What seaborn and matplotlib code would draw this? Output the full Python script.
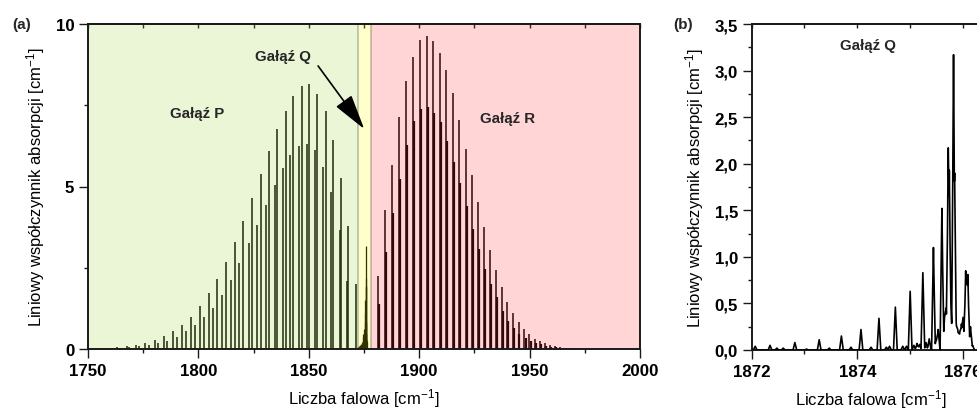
import numpy as np
import matplotlib
matplotlib.use("Agg")
import matplotlib.pyplot as plt
from matplotlib.ticker import FixedLocator, FixedFormatter
import seaborn as sns

# ---- line list of the fundamental band: P branch (two components) ----
p_main_pos = [1754.4, 1758.9, 1763.2, 1767.5, 1771.9, 1776.0, 1780.3, 1784.4, 1788.6,
              1792.6, 1796.6, 1800.7, 1804.8, 1808.6, 1812.5, 1816.6, 1820.3, 1824.4,
              1828.4, 1832.1, 1835.7, 1839.5, 1843.0, 1846.9, 1850.2, 1853.9, 1857.6,
              1860.8, 1864.4, 1867.9, 1871.3]
p_main_int = [0.02, 0.03, 0.05, 0.08, 0.13, 0.19, 0.29, 0.41, 0.56,
              0.75, 0.99, 1.31, 1.71, 2.15, 2.69, 3.30, 3.95, 4.64,
              5.37, 6.09, 6.77, 7.32, 7.80, 8.08, 8.16, 7.85, 7.32,
              6.44, 5.26, 3.79, 2.00]
p_weak_pos = [1756.0, 1760.0, 1764.2, 1768.7, 1773.2, 1777.5, 1781.7, 1785.9, 1790.2,
              1794.2, 1798.3, 1802.5, 1806.8, 1810.7, 1814.6, 1818.5, 1822.8, 1826.7,
              1830.6, 1834.5, 1838.2, 1841.6, 1845.6, 1849.2, 1852.8, 1856.6, 1860.2,
              1864.0, 1867.3]
p_weak_int = [0.01, 0.02, 0.03, 0.05, 0.08, 0.13, 0.19, 0.26, 0.38,
              0.54, 0.73, 0.97, 1.27, 1.66, 2.13, 2.64, 3.25, 3.83,
              4.43, 5.05, 5.57, 5.98, 6.24, 6.31, 6.12, 5.59, 4.82,
              3.67, 2.10]

# ---- R branch (two components) ----
r_main_pos = [1881.2, 1884.5, 1887.8, 1891.0, 1894.1, 1897.1, 1900.4, 1903.4, 1906.4,
              1909.4, 1912.3, 1915.2, 1918.2, 1921.1, 1923.8, 1926.6, 1929.3, 1932.1,
              1934.8, 1937.4, 1939.9, 1942.5, 1945.0, 1947.6, 1949.9, 1952.4, 1954.7,
              1957.0, 1959.2, 1961.5, 1963.8, 1966.0, 1968.2, 1970.4, 1972.6]
r_main_int = [2.24, 4.28, 5.67, 7.13, 8.25, 8.98, 9.50, 9.64, 9.49,
              9.12, 8.59, 7.88, 7.05, 6.15, 5.35, 4.53, 3.74, 3.06,
              2.43, 1.90, 1.46, 1.11, 0.82, 0.62, 0.46, 0.32, 0.25,
              0.19, 0.12, 0.08, 0.05, 0.03, 0.02, 0.01, 0.01]
r_weak_pos = [1881.6, 1884.9, 1888.2, 1891.4, 1894.5, 1897.5, 1900.8, 1903.8, 1906.8,
              1909.8, 1912.7, 1915.6, 1918.6, 1921.5, 1924.2, 1927.0, 1929.7, 1932.5,
              1935.2, 1937.8, 1940.3, 1942.9, 1945.4, 1948.2, 1950.6, 1953.0, 1955.3,
              1957.6, 1959.8, 1962.1, 1964.4, 1966.6]
r_weak_int = [1.40, 3.00, 4.20, 5.23, 6.29, 7.03, 7.38, 7.44, 7.26,
              6.97, 6.41, 5.74, 5.10, 4.41, 3.69, 3.08, 2.46, 2.00,
              1.59, 1.18, 0.87, 0.64, 0.46, 0.34, 0.25, 0.19, 0.15,
              0.10, 0.07, 0.05, 0.03, 0.02]

# ---- Q branch ----
q_pos = [1872.07, 1872.35, 1872.48, 1872.60, 1872.82, 1873.04, 1873.28, 1873.47,
         1873.70, 1873.88, 1874.07, 1874.26, 1874.41, 1874.55, 1874.61, 1874.72,
         1874.86, 1874.93, 1875.00, 1875.07, 1875.13, 1875.18, 1875.24, 1875.30,
         1875.36, 1875.44, 1875.49, 1875.53, 1875.60, 1875.65, 1875.68, 1875.72,
         1875.74, 1875.77, 1875.82, 1875.84, 1875.87, 1875.90, 1875.94, 1875.97,
         1876.00, 1876.05, 1876.09, 1876.14, 1876.18]
q_int = [0.04, 0.05, 0.02, 0.02, 0.08, 0.01, 0.11, 0.02,
         0.15, 0.03, 0.22, 0.03, 0.34, 0.03, 0.04, 0.46,
         0.04, 0.04, 0.63, 0.05, 0.07, 0.06, 0.83, 0.08,
         0.12, 1.10, 0.12, 0.22, 1.52, 0.35, 0.45, 2.17,
         1.93, 0.50, 3.17, 1.90, 0.30, 0.22, 0.20, 0.28,
         0.35, 0.85, 0.81, 0.25, 0.05]

# ---- shaded branch regions ----
branch_names = ["P", "Q", "R"]
branch_lo = [1750.0, 1872.5, 1878.0]
branch_hi = [1872.5, 1878.0, 2000.0]
branch_rgba = [(0.59, 0.84, 0.20, 0.2), (1.0, 1.0, 0.0, 0.2), (1.0, 0.18, 0.20, 0.2)]

# ---- axes ticks ----
a_xticks = [1750, 1800, 1850, 1900, 1950, 2000]
a_xminor = [1775, 1825, 1875, 1925, 1975]
a_yticks = [0, 5, 10]
a_yminor = [2.5, 7.5]
b_xticks = [1872, 1874, 1876]
b_xminor = [1873, 1875]
b_yticks = [0.0, 0.5, 1.0, 1.5, 2.0, 2.5, 3.0, 3.5]
b_ytick_labels = ["0,0", "0,5", "1,0", "1,5", "2,0", "2,5", "3,0", "3,5"]
b_yminor = [0.25, 0.75, 1.25, 1.75, 2.25, 2.75, 3.25]

sns.set_theme(style="ticks")
plt.rcParams["font.family"] = ["Liberation Sans", "DejaVu Sans"]
plt.rcParams["mathtext.fontset"] = "custom"
plt.rcParams["mathtext.rm"] = "Liberation Sans"
plt.rcParams["mathtext.it"] = "Liberation Sans:italic"
plt.rcParams["mathtext.bf"] = "Liberation Sans:bold"

W, H = 977, 410
fig = plt.figure(figsize=(W / 100, H / 100), dpi=100)
ax_a = fig.add_axes([88 / W, 1 - 350 / H, 552 / W, 325 / H])
ax_b = fig.add_axes([751.5 / W, 1 - 351 / H, 238 / W, 326 / H])

ylabel = "Liniowy współczynnik absorpcji [cm$^{-1}$]"
xlabel = "Liczba falowa [cm$^{-1}$]"
spine_col = "#1a1a1a"


def style_axes(ax, xt, xm, yt, ym, ytl=None):
    ax.xaxis.set_major_locator(FixedLocator(xt))
    ax.xaxis.set_minor_locator(FixedLocator(xm))
    ax.yaxis.set_major_locator(FixedLocator(yt))
    ax.yaxis.set_minor_locator(FixedLocator(ym))
    ax.xaxis.set_major_formatter(FixedFormatter([str(v) for v in xt]))
    ax.yaxis.set_major_formatter(FixedFormatter(ytl if ytl else [str(v) for v in yt]))
    ax.tick_params(which="major", direction="out", length=6.3, width=1.0,
                   color=spine_col, labelsize=12.2, pad=3.5)
    ax.tick_params(which="minor", direction="out", length=3.0, width=1.0, color=spine_col)
    for lab in ax.get_xticklabels() + ax.get_yticklabels():
        lab.set_fontweight("bold")
        lab.set_color("black")
    for s in ax.spines.values():
        s.set_visible(True)
        s.set_linewidth(1.4)
        s.set_color(spine_col)
    top = ax.secondary_xaxis("top")
    top.xaxis.set_major_locator(FixedLocator(sorted(list(xt) + list(xm))))
    top.tick_params(axis="x", direction="in", length=3, width=1.0, color=spine_col,
                    labeltop=False)
    top.spines["top"].set_linewidth(1.4)
    top.spines["top"].set_color(spine_col)
    ax.set_xlabel(xlabel, fontsize=12, labelpad=6, color="black")
    ax.set_ylabel(ylabel, fontsize=12, labelpad=6, color="black")


# ---- panel (a): stick spectrum of the whole band ----
ax_a.set_facecolor("white")
ax_a.vlines(p_main_pos, 0, p_main_int, color="black", lw=1.1, zorder=2)
ax_a.vlines(p_weak_pos, 0, p_weak_int, color="black", lw=1.1, zorder=2)
ax_a.vlines(r_main_pos, 0, r_main_int, color="black", lw=1.1, zorder=2)
ax_a.vlines(r_weak_pos, 0, r_weak_int, color="black", lw=1.6, zorder=2)
ax_a.vlines(q_pos, 0, q_int, color="black", lw=0.9, zorder=2)

for name, lo, hi, rgba in zip(branch_names, branch_lo, branch_hi, branch_rgba):
    if name == "Q":
        ax_a.axvspan(lo, hi, facecolor=rgba, edgecolor=(0.25, 0.25, 0.2, 0.3),
                     lw=1.3, zorder=2.2)
    else:
        ax_a.axvspan(lo, hi, facecolor=rgba, lw=0, zorder=2.2)

ax_a.set_xlim(1750, 2000)
ax_a.set_ylim(0, 10)
style_axes(ax_a, a_xticks, a_xminor, a_yticks, a_yminor)

lab_kw = dict(fontsize=10.8, fontweight="bold", ha="center", va="center", zorder=6)
ax_a.text(1799.4, 7.26, "Gałąź P", **lab_kw)
ax_a.text(1939.8, 7.10, "Gałąź R", **lab_kw)
ax_a.text(1838.4, 9.00, "Gałąź Q", **lab_kw)
ax_a.annotate("", xy=(1875.1, 6.77), xytext=(1854.2, 8.71), zorder=6,
              arrowprops=dict(arrowstyle="-|>,head_length=1.1,head_width=0.3",
                              mutation_scale=20, color="black", lw=1.2,
                              shrinkA=0, shrinkB=0))

# ---- panel (b): resolved Q branch ----
hw = 0.035
pos = np.asarray(q_pos)
amp = np.asarray(q_int)
xs = np.unique(np.concatenate([pos - hw, pos, pos + hw]))
profiles = amp[None, :] * np.clip(1 - np.abs(xs[:, None] - pos[None, :]) / hw, 0, None)
ys = profiles.max(axis=1)
sns.lineplot(x=xs, y=ys, ax=ax_b, color="black", lw=1.2, sort=False,
             estimator=None, zorder=3)
ax_b.set_xlim(1872, 1876.5)
ax_b.set_ylim(0, 3.5)
style_axes(ax_b, b_xticks, b_xminor, b_yticks, b_yminor, b_ytick_labels)
ax_b.text(1874.2, 3.27, "Gałąź Q", **lab_kw)

fig.text(22 / W, 1 - 25 / H, "(a)", fontsize=11, fontweight="bold", ha="center", va="center")
fig.text(683 / W, 1 - 25 / H, "(b)", fontsize=11, fontweight="bold", ha="center", va="center")

fig.savefig("out.png", dpi=100)
